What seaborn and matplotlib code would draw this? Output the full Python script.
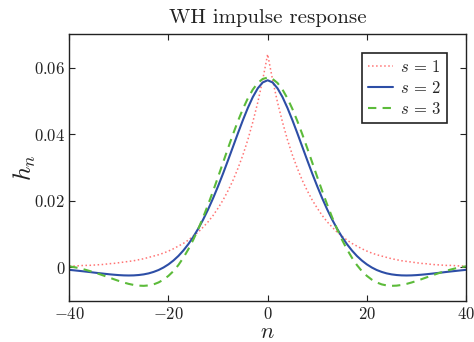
import matplotlib
matplotlib.use("Agg")
import matplotlib.pyplot as plt
import seaborn as sns

# ---- data (n = -40 ... 40) ----
n = list(range(-40, 41))
h_s1 = [0.0004, 0.0004, 0.0005, 0.0006, 0.0006, 0.0007, 0.0008, 0.0009, 0.0011, 0.0012,
        0.0014, 0.0016, 0.0018, 0.0020, 0.0023, 0.0026, 0.0030, 0.0034, 0.0038, 0.0043,
        0.0049, 0.0056, 0.0064, 0.0072, 0.0082, 0.0094, 0.0106, 0.0121, 0.0137, 0.0156,
        0.0178, 0.0202, 0.0230, 0.0261, 0.0297, 0.0337, 0.0383, 0.0436, 0.0495, 0.0563,
        0.0640,
        0.0563, 0.0495, 0.0436, 0.0383, 0.0337, 0.0297, 0.0261, 0.0230, 0.0202, 0.0178,
        0.0156, 0.0137, 0.0121, 0.0106, 0.0094, 0.0082, 0.0072, 0.0064, 0.0056, 0.0049,
        0.0043, 0.0038, 0.0034, 0.0030, 0.0026, 0.0023, 0.0020, 0.0018, 0.0016, 0.0014,
        0.0012, 0.0011, 0.0009, 0.0008, 0.0007, 0.0006, 0.0006, 0.0005, 0.0004, 0.0004]
h_s2 = [-0.00074, -0.00089, -0.00105, -0.00121, -0.00138, -0.00156, -0.00173, -0.00190,
        -0.00206, -0.00220, -0.00232, -0.00240, -0.00243, -0.00240, -0.00229, -0.00210,
        -0.00180, -0.00136, -0.00079, -0.00003, 0.00091, 0.00206, 0.00343, 0.00507,
        0.00697, 0.00914, 0.01162, 0.01439, 0.01744, 0.02078, 0.02437, 0.02816, 0.03213,
        0.03618, 0.04025, 0.04419, 0.04787, 0.05113, 0.05376, 0.05554,
        0.05620,
        0.05554, 0.05376, 0.05113, 0.04787, 0.04419, 0.04025, 0.03618, 0.03213, 0.02816,
        0.02437, 0.02078, 0.01744, 0.01439, 0.01162, 0.00914, 0.00697, 0.00507, 0.00343,
        0.00206, 0.00091, -0.00003, -0.00079, -0.00136, -0.00180, -0.00210, -0.00229,
        -0.00240, -0.00243, -0.00240, -0.00232, -0.00220, -0.00206, -0.00190, -0.00173,
        -0.00156, -0.00138, -0.00121, -0.00105, -0.00089, -0.00074]
h_s3 = [0.00032, 0.00007, -0.00025, -0.00061, -0.00104, -0.00149, -0.00198, -0.00250,
        -0.00303, -0.00356, -0.00408, -0.00455, -0.00496, -0.00528, -0.00548, -0.00554,
        -0.00542, -0.00510, -0.00452, -0.00368, -0.00254, -0.00112, 0.00071, 0.00290,
        0.00542, 0.00829, 0.01152, 0.01507, 0.01889, 0.02294, 0.02715, 0.03145, 0.03575,
        0.03994, 0.04391, 0.04756, 0.05075, 0.05339, 0.05536, 0.05659,
        0.05700,
        0.05659, 0.05536, 0.05339, 0.05075, 0.04756, 0.04391, 0.03994, 0.03575, 0.03145,
        0.02715, 0.02294, 0.01889, 0.01507, 0.01152, 0.00829, 0.00542, 0.00290, 0.00071,
        -0.00112, -0.00254, -0.00368, -0.00452, -0.00510, -0.00542, -0.00554, -0.00548,
        -0.00528, -0.00496, -0.00455, -0.00408, -0.00356, -0.00303, -0.00250, -0.00198,
        -0.00149, -0.00104, -0.00061, -0.00025, 0.00007, 0.00032]
series_labels = [r"$s\,=\,1$", r"$s\,=\,2$", r"$s\,=\,3$"]
xticks = [-40, -20, 0, 20, 40]
xticklabels = [r"$-40$", r"$-20$", r"$0$", r"$20$", r"$40$"]
yticks = [0, 0.02, 0.04, 0.06]
yticklabels = [r"$0$", r"$0.02$", r"$0.04$", r"$0.06$"]
title = "WH impulse response"

sns.set_style("ticks")
plt.rcParams.update({
    "font.family": ["cmr10", "DejaVu Serif"],
    "mathtext.fontset": "cm",
    "axes.unicode_minus": False,
    "axes.linewidth": 1.0,
    "axes.edgecolor": "#222222",
})

fig = plt.figure(figsize=(4.74, 3.42), dpi=100)
ax = fig.add_axes([0.1462, 0.1208, 0.8369, 0.7789])

sns.lineplot(x=n, y=h_s1, ax=ax, color="#ff7474", linestyle=":", linewidth=1.1,
             label=series_labels[0])
sns.lineplot(x=n, y=h_s2, ax=ax, color="#2d4ea6", linestyle="-", linewidth=1.5,
             label=series_labels[1])
sns.lineplot(x=n, y=h_s3, ax=ax, color="#5cbb3a", linestyle=(0, (4, 3)), linewidth=1.5,
             label=series_labels[2])

ax.set_xlim(-40, 40)
ax.set_ylim(-0.01, 0.07)
ax.set_xticks(xticks)
ax.set_xticklabels(xticklabels, fontsize=12)
ax.set_yticks(yticks)
ax.set_yticklabels(yticklabels, fontsize=12)
ax.tick_params(direction="in", length=4, width=0.8, top=True, right=True,
               colors="#222222", labelcolor="#222222")
ax.tick_params(axis="x", pad=4)
ax.tick_params(axis="y", pad=3)
for sp in ax.spines.values():
    sp.set_visible(True)

ax.set_title(title, fontsize=15, pad=8, color="#222222")
ax.set_xlabel(r"$n$", fontsize=16, labelpad=0, color="#222222")
ax.set_ylabel(r"$h_n$", fontsize=18, labelpad=-3, color="#222222")

leg = ax.legend(loc="upper right", bbox_to_anchor=(0.9513, 0.9287), borderaxespad=0,
                fontsize=12, frameon=True, fancybox=False, handlelength=1.5,
                handletextpad=0.4, borderpad=0.35, labelspacing=0.3)
leg.get_frame().set_edgecolor("#222222")
leg.get_frame().set_linewidth(1.2)
leg.get_frame().set_alpha(1)

fig.savefig("out.png", dpi=100)
